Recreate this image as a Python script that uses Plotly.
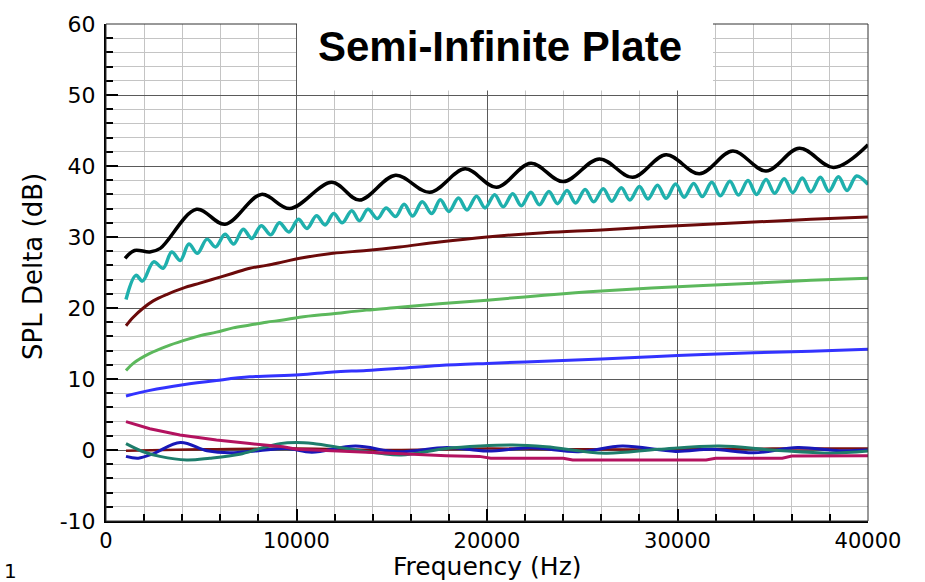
import plotly.graph_objects as go

# ---- data ---------------------------------------------------------------
black_f = [1000, 1500, 2300, 2850, 4750, 6250, 8150, 9650, 11850, 13300, 15200, 17000,
           18850, 20500, 22300, 24000, 25900, 27650, 29400, 31150, 32900, 34650, 36400,
           38200, 40000]
black_v = [27.0, 28.1, 27.9, 28.4, 33.9, 31.8, 36.0, 34.0, 37.7, 35.2, 38.7, 36.3,
           39.6, 37.0, 40.4, 37.8, 41.0, 38.4, 41.6, 38.9, 42.1, 39.3, 42.5,
           39.8, 43.0]

cyan_f = [1050, 1570, 1920, 2500, 3000, 3450, 3900, 4350, 4800, 5300, 5750, 6250, 6700,
          7200, 7650, 8150, 8650, 9100, 9600, 10100, 10550, 11050, 11500, 11950, 12400,
          12900, 13300, 13750, 14250, 14700, 15200, 15650, 16100, 16600, 17100, 17550,
          18000, 18500, 18950, 19450, 19900, 20400, 20850, 21350, 21800, 22300, 22750,
          23250, 23700, 24200, 24650, 25150, 25600, 26100, 26550, 27050, 27500, 28000,
          28450, 28950, 29400, 29900, 30350, 30850, 31300, 31800, 32250, 32750, 33200,
          33700, 34150, 34650, 35100, 35600, 36050, 36550, 37000, 37500, 37950, 38450,
          38900, 39400, 40000]
cyan_v = [21.2, 24.6, 23.8, 26.5, 25.6, 27.9, 26.7, 29.0, 27.7, 29.7, 28.6, 30.4, 29.0,
          31.1, 29.8, 31.6, 30.3, 32.0, 30.7, 32.5, 31.2, 33.0, 31.7, 33.3, 32.0,
          33.7, 32.3, 33.9, 32.6, 34.1, 32.9, 34.6, 32.95, 34.95, 33.3, 35.25,
          33.6, 35.5, 33.8, 35.75, 34.1, 35.95, 34.25, 36.1, 34.4, 36.3, 34.55,
          36.4, 34.7, 36.55, 34.8, 36.7, 34.95, 36.8, 35.05, 36.95, 35.2, 37.1,
          35.35, 37.3, 35.45, 37.45, 35.6, 37.55, 35.7, 37.7, 35.8, 37.85, 35.9,
          37.95, 36.0, 38.1, 36.15, 38.2, 36.25, 38.3, 36.35, 38.4, 36.45, 38.5,
          36.55, 38.6, 37.4]

maroon_f = [1050, 1430, 1960, 2480, 3180, 4050, 4930, 5800, 6670, 7550, 8420, 9300, 10170,
            11920, 13670, 15410, 17500, 20000, 23000, 26000, 30000, 34000, 37000, 40000]
maroon_v = [17.5, 18.7, 20.0, 21.0, 21.9, 22.8, 23.5, 24.2, 24.9, 25.6, 26.0, 26.5, 27.0,
            27.7, 28.1, 28.6, 29.3, 30.0, 30.6, 31.0, 31.6, 32.1, 32.5, 32.8]

green_f = [1050, 1430, 2300, 3180, 4050, 4930, 5800, 6670, 7550, 8420, 9300, 10170, 11920,
           13670, 15410, 17500, 20000, 23000, 26000, 30000, 34000, 37000, 40000]
green_v = [11.2, 12.2, 13.6, 14.6, 15.4, 16.1, 16.6, 17.2, 17.6, 18.0, 18.3, 18.7, 19.2,
           19.7, 20.1, 20.6, 21.1, 21.8, 22.4, 23.0, 23.5, 23.9, 24.2]

blue_f = [1050, 2300, 4050, 5800, 7550, 10170, 11920, 13670, 15410, 17500, 20000, 23000,
          26000, 30000, 34000, 37000, 40000]
blue_v = [7.6, 8.4, 9.2, 9.8, 10.3, 10.6, 11.0, 11.2, 11.5, 11.9, 12.2, 12.5,
          12.8, 13.3, 13.7, 13.9, 14.2]

ref_f = [1050, 5000, 10000, 15000, 20000, 25000, 30000, 35000, 40000]
ref_v = [-0.1, 0.1, 0.2, 0.0, 0.2, 0.1, 0.1, 0.2, 0.2]

navy_f = [1050, 1700, 2500, 3900, 5300, 6500, 8000, 9500, 10800, 13100, 15300, 17900,
          20000, 22300, 24800, 27100, 29900, 31800, 34000, 36300, 38500, 40000]
navy_v = [-0.9, -1.15, -0.5, 1.05, -0.1, -0.4, -0.1, 0.2, -0.3, 0.55, -0.25, 0.35,
          -0.15, 0.3, -0.25, 0.55, -0.2, 0.1, -0.4, 0.35, -0.1, 0.0]

teal_f = [1050, 1960, 2830, 4230, 5450, 7020, 8070, 9120, 10000, 10870, 12620, 14360,
          15500, 17860, 19610, 21350, 23100, 26200, 29000, 32200, 35000, 38000, 40000]
teal_v = [0.9, -0.25, -0.9, -1.4, -1.15, -0.6, 0.2, 0.9, 1.05, 0.9, 0.2, -0.45,
          -0.7, 0.2, 0.55, 0.7, 0.45, -0.45, 0.1, 0.55, 0.0, -0.45, -0.15]

crimson_f = [1050, 2300, 3880, 5800, 7550, 9300, 10000, 12620, 15240, 17860, 19600, 20200,
             24000, 24500, 31500, 32000, 35500, 36000, 40000]
crimson_v = [4.0, 3.0, 2.1, 1.4, 0.9, 0.45, 0.1, -0.15, -0.5, -0.8, -0.9, -1.15,
             -1.15, -1.4, -1.4, -1.15, -1.15, -0.85, -0.8]

x_ticks = [0, 10000, 20000, 30000, 40000]
y_ticks = [-10, 0, 10, 20, 30, 40, 50, 60]

# ---- figure -------------------------------------------------------------
fig = go.Figure()

def add(f, v, color, width=3.0, shape="spline"):
    fig.add_trace(go.Scatter(x=f, y=v, mode="lines",
                             line=dict(color=color, width=width, shape=shape,
                                       smoothing=1.0 if shape == "spline" else None),
                             hoverinfo="skip", showlegend=False))

add(ref_f, ref_v, "#7b1010", 2.5)
add(navy_f, navy_v, "#1818b8", 3.0)
add(teal_f, teal_v, "#1e7d6b", 3.0)
add(crimson_f, crimson_v, "#b3125f", 3.0, "linear")
add(blue_f, blue_v, "#3333ff", 3.0)
add(green_f, green_v, "#5cb85c", 3.0)
add(maroon_f, maroon_v, "#6b0a0a", 3.0)
add(cyan_f, cyan_v, "#1fb0ad", 3.5)
add(black_f, black_v, "#000000", 3.5)

fig.update_xaxes(
    range=[0, 40000], tickvals=x_ticks, ticktext=[str(t) for t in x_ticks],
    showgrid=True, gridcolor="#5a5a5a", gridwidth=1,
    showline=True, linecolor="#000000", linewidth=2,
    ticks="inside", ticklen=12, tickwidth=2, tickcolor="#000000",
    minor=dict(dtick=2000, showgrid=True, gridcolor="#c4c4c4", gridwidth=1,
               ticks="inside", ticklen=7, tickwidth=1.5, tickcolor="#000000"),
    tickfont=dict(family="DejaVu Sans", size=21, color="#000000"), zeroline=False,
)
fig.update_yaxes(
    range=[-10, 60], tickvals=y_ticks, ticktext=[str(t) for t in y_ticks],
    showgrid=True, gridcolor="#5a5a5a", gridwidth=1,
    showline=True, linecolor="#000000", linewidth=2,
    ticks="inside", ticklen=12, tickwidth=2, tickcolor="#000000",
    minor=dict(dtick=2, showgrid=True, gridcolor="#c4c4c4", gridwidth=1,
               ticks="inside", ticklen=7, tickwidth=1.5, tickcolor="#000000"),
    tickfont=dict(family="DejaVu Sans", size=22, color="#000000"),
    zeroline=False, ticklabelstandoff=4,
)

# frame on the top and right, then the white panel behind the heading
fig.add_shape(type="rect", xref="paper", yref="paper", x0=0, x1=1, y0=0, y1=1,
              line=dict(color="#333333", width=1), fillcolor="rgba(0,0,0,0)", layer="above")
fig.add_shape(type="rect", xref="paper", yref="paper", x0=0.2507, x1=0.7966,
              y0=0.866, y1=1.04, line=dict(width=0), fillcolor="#ffffff", layer="above")

fig.add_annotation(text="<b>Semi-Infinite Plate</b>", xref="paper", yref="paper",
                   x=0.517, y=0.955, xanchor="center", yanchor="middle", showarrow=False,
                   font=dict(family="Liberation Sans", size=42, color="#000000"))
fig.add_annotation(text="Frequency (Hz)", xref="paper", yref="paper",
                   x=0.5, y=-0.092, xanchor="center", yanchor="middle", showarrow=False,
                   font=dict(family="DejaVu Sans", size=25, color="#000000"))
fig.add_annotation(text="SPL Delta (dB)", xref="paper", yref="paper", textangle=-90,
                   x=-0.0958, y=0.511, xanchor="center", yanchor="middle", showarrow=False,
                   font=dict(family="DejaVu Sans", size=26, color="#000000"))
fig.add_annotation(text="1", xref="paper", yref="paper",
                   x=-0.136, y=-0.1, xanchor="left", yanchor="middle", showarrow=False,
                   font=dict(family="DejaVu Sans", size=20, color="#000000"))

fig.update_layout(
    width=925, height=582,
    margin=dict(l=106, r=57, t=14, b=61),
    paper_bgcolor="#ffffff", plot_bgcolor="#ffffff",
    showlegend=False,
)

fig.write_html("out.html", config={"displayModeBar": False})
